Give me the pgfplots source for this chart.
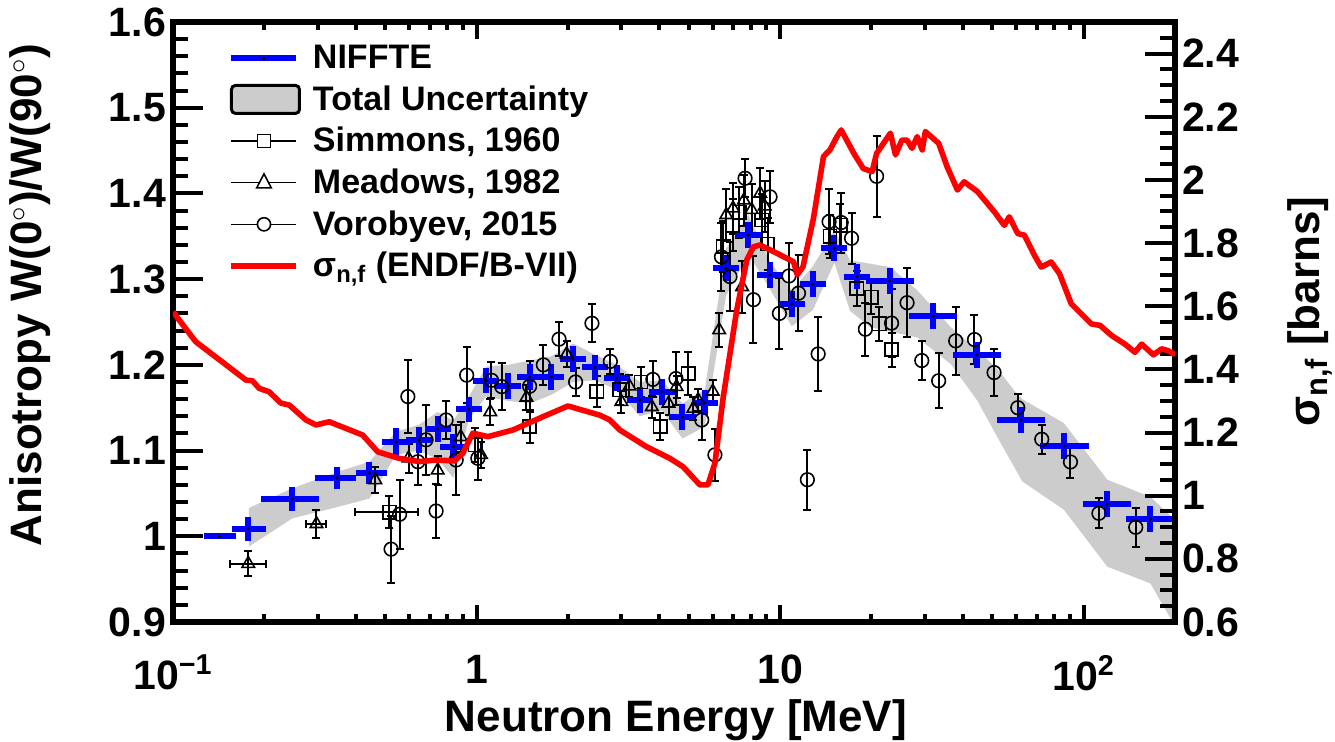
\documentclass[border=0pt]{standalone}
\usepackage{fontspec}
\setmainfont{Liberation Sans}
\usepackage{pgfplots}
\usepackage{pgfplotstable}
\pgfplotsset{compat=1.18}

\pgfplotstableread{
E Elo Ehi A dA
0.142 0.1266 0.1614 1.000 0
0.177 0.1563 0.2023 1.009 0.014
0.2475 0.1947 0.3032 1.044 0.014
0.347 0.2936 0.4009 1.068 0.013
0.444 0.401 0.5058 1.0735 0.013
0.543 0.487 0.604 1.110 0.016
0.645 0.584 0.712 1.112 0.015
0.745 0.675 0.822 1.125 0.015
0.839 0.760 0.926 1.1045 0.015
0.943 0.854 1.041 1.148 0.015
1.076 0.975 1.188 1.1816 0.015
1.269 1.149 1.401 1.1754 0.015
1.496 1.355 1.652 1.1855 0.015
1.765 1.599 1.949 1.1855 0.015
2.08 1.884 2.296 1.2065 0.015
2.45 2.219 2.705 1.197 0.015
2.90 2.627 3.202 1.1843 0.015
3.45 3.125 3.809 1.159 0.015
4.07 3.687 4.493 1.1687 0.015
4.77 4.321 5.266 1.1389 0.015
5.65 5.118 6.238 1.156 0.015
6.63 6.005 7.320 1.3127 0.015
7.86 7.12 8.68 1.3516 0.015
9.27 8.40 10.23 1.305 0.015
10.93 9.90 12.07 1.271 0.015
12.82 11.61 14.15 1.294 0.015
15.1 13.68 16.67 1.336 0.015
17.9 16.21 19.76 1.303 0.015
22.96 19.13 27.55 1.2975 0.015
32.0 26.67 38.4 1.257 0.015
44.5 37.08 53.4 1.2117 0.015
62.2 51.83 74.6 1.1358 0.015
86.5 72.1 103.8 1.105 0.015
119.7 99.75 143.6 1.0377 0.015
166 138.3 199.2 1.0198 0.015
}\niffte

\pgfplotstableread{
E A dA
0.99 1.1065 0.02
1.496 1.128 0.0195
2.49 1.169 0.018
2.96 1.171 0.018
3.48 1.180 0.018
4.03 1.128 0.016
4.98 1.190 0.025
6.5 1.338 0.03
7.0 1.363 0.03
7.35 1.378 0.03
8.7 1.369 0.03
9.1 1.341 0.03
14.6 1.350 0.025
15.8 1.363 0.025
17.9 1.289 0.02
20.0 1.279 0.02
21.2 1.248 0.02
23.3 1.2177 0.02
}\simmons

\pgfplotstableread{
E A dA
0.464 1.0657 0.0155
0.597 1.091 0.017
0.745 1.077 0.017
0.887 1.116 0.0175
1.035 1.095 0.015
1.11 1.145 0.0156
1.46 1.162 0.015
1.98 1.2125 0.015
3.0 1.157 0.013
3.19 1.175 0.013
3.78 1.151 0.013
4.29 1.155 0.013
4.56 1.1745 0.013
5.18 1.149 0.013
5.37 1.159 0.013
6.0 1.169 0.013
6.3 1.2407 0.02
6.65 1.375 0.03
7.0 1.3826 0.03
7.5 1.291 0.03
7.6 1.392 0.03
8.06 1.381 0.03
8.6 1.400 0.03
8.9 1.385 0.03
}\meadows

\pgfplotstableread{
E A dA
0.523 0.985 0.039
0.558 1.0257 0.040
0.594 1.163 0.043
0.641 1.087 0.027
0.682 1.1125 0.041
0.736 1.0295 0.031
0.794 1.1357 0.022
0.857 1.089 0.041
0.928 1.188 0.033
1.01 1.091 0.025
1.12 1.182 0.021
1.21 1.1746 0.027
1.496 1.175 0.03
1.66 1.200 0.023
1.87 1.230 0.02
2.12 1.180 0.016
2.40 1.2485 0.022
2.76 1.204 0.015
3.81 1.183 0.021
4.54 1.184 0.031
5.52 1.1357 0.023
6.1 1.095 0.03
6.41 1.326 0.04
6.84 1.303 0.04
7.67 1.4177 0.022
8.17 1.276 0.051
9.27 1.396 0.03
9.95 1.260 0.041
10.7 1.3037 0.039
11.5 1.2836 0.044
12.3 1.066 0.035
13.35 1.2127 0.043
14.5 1.367 0.038
15.9 1.366 0.035
17.2 1.3477 0.03
19.1 1.2416 0.031
20.8 1.420 0.047
23.3 1.2487 0.04
26.2 1.2725 0.04
29.3 1.205 0.023
33.3 1.1814 0.032
37.9 1.228 0.04
43.7 1.2295 0.029
50.7 1.191 0.027
60.7 1.150 0.016
72.8 1.1132 0.017
90.5 1.0867 0.019
112.3 1.0268 0.0175
148.5 1.0105 0.023
}\vorobyev

\pgfplotstableread{
E A dA Elo Ehi
0.516 1.028 0.0185 0.398 0.640
}\simmonsx

\pgfplotstableread{
E A dA Elo Ehi
0.177 0.968 0.0146 0.154 0.202
0.297 1.0144 0.016 0.275 0.320
}\meadowsx

\newcommand{\tickfont}{\fontsize{20.5}{22}\selectfont\bfseries}
\newcommand{\labfont}{\fontsize{22}{24}\selectfont\bfseries}

\begin{document}
\begin{tikzpicture}
\useasboundingbox (-86.5pt,-60pt) rectangle (581pt,311pt);

% main axis: anisotropy
\begin{axis}[scale only axis, width=501pt, height=300pt,
  xmode=log, xmin=0.1, xmax=200,
  axis line style={line width=3pt},
  tick style={black, line width=2pt},
  /pgf/number format/assume math mode=true,
  ymin=0.9, ymax=1.6,
  xtick=\empty, xminorticks=false,
  ytick={0.9,1.0,1.1,1.2,1.3,1.4,1.5,1.6}, minor y tick num=4,
  ytick pos=left,
  major tick length=15pt, minor tick length=7.5pt,
  yticklabel style={font=\tickfont},
  ylabel={Anisotropy W(0$^{\circ}$)/W(90$^{\circ}$)},
  ylabel style={font=\labfont, at={(axis description cs:-0.143,0.545)}, anchor=center},
  legend style={at={(axis description cs:0.055,0.967)}, anchor=north west,
    draw=none, fill=none, font=\fontsize{17}{18.5}\selectfont\bfseries,
    row sep=4pt, column sep=4.5pt, inner sep=0pt, nodes={inner sep=1.5pt}},
  legend cell align=left,
]
\addlegendimage{legend image code/.code={
  \draw[blue, line width=3pt] (0pt,0pt) -- (32.5pt,0pt);
  \fill[black] (16.25pt,0pt) circle (0.6pt);}}
\addlegendentry{NIFFTE}
\addlegendimage{legend image code/.code={
  \draw[fill=gray!40, line width=1.5pt, rounded corners=2pt] (0pt,-7pt) rectangle (34pt,7pt);}}
\addlegendentry{Total Uncertainty}
\addlegendimage{legend image code/.code={
  \draw[black, line width=0.8pt] (0pt,0pt) -- (32.5pt,0pt);
  \draw[black, line width=0.8pt, fill=white] (12.95pt,-3.3pt) rectangle (19.55pt,3.3pt);}}
\addlegendentry{Simmons, 1960}
\addlegendimage{legend image code/.code={
  \draw[black, line width=0.8pt] (0pt,0pt) -- (32.5pt,0pt);
  \draw[black, line width=0.8pt, fill=white] (12.6pt,-2.6pt) -- (19.9pt,-2.6pt) -- (16.25pt,4.4pt) -- cycle;}}
\addlegendentry{Meadows, 1982}
\addlegendimage{legend image code/.code={
  \draw[black, line width=0.8pt] (0pt,0pt) -- (32.5pt,0pt);
  \draw[black, line width=0.8pt, fill=white] (16.25pt,0pt) circle (3.3pt);}}
\addlegendentry{Vorobyev, 2015}
\addlegendimage{legend image code/.code={
  \draw[red, line width=2.8pt] (0pt,0pt) -- (32.5pt,0pt);}}
\addlegendentry{σ\textsubscript{n,f} (ENDF/B-VII)}

% total uncertainty band
\addplot[fill=gray!40, draw=none, forget plot] coordinates {
(0.178,1.033) (0.2475,1.056) (0.347,1.075) (0.444,1.087) (0.543,1.122)
(0.645,1.130) (0.745,1.145) (0.839,1.135) (0.943,1.163) (1.076,1.198)
(1.269,1.200) (1.496,1.205) (1.765,1.210) (2.08,1.225) (2.45,1.212)
(2.90,1.200) (3.45,1.180) (4.07,1.182) (4.77,1.155) (5.65,1.171)
(6.63,1.335) (7.86,1.375) (9.27,1.320) (10.93,1.287) (12.82,1.315)
(15.1,1.357) (17.0,1.322) (19.8,1.318) (23.1,1.314) (28.3,1.287)
(36.5,1.244) (44.7,1.217) (52.1,1.195) (59.1,1.170) (62.8,1.160)
(86.1,1.132) (119.7,1.066) (166,1.046) (200,1.019)
(200,0.895) (166,0.945) (119.7,0.9645) (86.1,1.031) (62.8,1.064)
(52.1,1.115) (44.7,1.158) (36.5,1.201) (28.3,1.232) (19.8,1.244)
(17.0,1.263) (15.1,1.319) (12.82,1.264) (10.93,1.245) (9.27,1.288)
(7.86,1.330) (6.63,1.280) (5.65,1.128) (4.77,1.114) (4.07,1.147)
(3.45,1.140) (2.90,1.171) (2.45,1.182) (2.08,1.180) (1.765,1.165)
(1.496,1.155) (1.269,1.158) (1.076,1.163) (0.943,1.136) (0.839,1.068)
(0.745,1.090) (0.645,1.100) (0.543,1.095) (0.444,1.044) (0.347,1.034)
(0.2475,1.021) (0.178,0.988)
} -- cycle;

% literature data
\addplot[only marks, black, mark=square, mark size=3.3pt,
  mark options={fill=white, line width=0.8pt, solid}, forget plot,
  error bars/.cd, y dir=both, y explicit,
  error bar style={line width=1pt, black},
  error mark options={rotate=90, mark size=2pt, line width=1pt, black}]
  table[x=E, y=A, y error=dA] {\simmons};
\addplot[only marks, black, mark=square, mark size=3.3pt,
  mark options={fill=white, line width=0.8pt, solid}, forget plot,
  error bars/.cd, x dir=both, y dir=both, x explicit, y explicit,
  error bar style={line width=1pt, black},
  error mark options={rotate=90, mark size=2pt, line width=1pt, black}]
  table[x=E, y=A, y error=dA,
  x error plus expr=\thisrow{Ehi}-\thisrow{E}, x error minus expr=\thisrow{E}-\thisrow{Elo}] {\simmonsx};
\addplot[only marks, black, mark=triangle, mark size=3.6pt,
  mark options={fill=white, line width=0.8pt, solid}, forget plot,
  error bars/.cd, y dir=both, y explicit,
  error bar style={line width=1pt, black},
  error mark options={rotate=90, mark size=2pt, line width=1pt, black}]
  table[x=E, y=A, y error=dA] {\meadows};
\addplot[only marks, black, mark=triangle, mark size=3.6pt,
  mark options={fill=white, line width=0.8pt, solid}, forget plot,
  error bars/.cd, x dir=both, y dir=both, x explicit, y explicit,
  error bar style={line width=1pt, black},
  error mark options={rotate=90, mark size=2pt, line width=1pt, black}]
  table[x=E, y=A, y error=dA,
  x error plus expr=\thisrow{Ehi}-\thisrow{E}, x error minus expr=\thisrow{E}-\thisrow{Elo}] {\meadowsx};
\addplot[only marks, black, mark=o, mark size=3.4pt,
  mark options={fill=white, line width=0.8pt, solid}, forget plot,
  error bars/.cd, y dir=both, y explicit,
  error bar style={line width=1pt, black},
  error mark options={rotate=90, mark size=2pt, line width=1pt, black}]
  table[x=E, y=A, y error=dA] {\vorobyev};

% NIFFTE
\addplot[only marks, mark=*, mark size=0.6pt, black, forget plot,
  error bars/.cd, x dir=both, y dir=both, x explicit, y explicit,
  error bar style={blue, line width=3pt}, error mark=none]
  table[x=E, y=A, y error=dA,
  x error plus expr=\thisrow{Ehi}-\thisrow{E}, x error minus expr=\thisrow{E}-\thisrow{Elo}] {\niffte};
\end{axis}

% x ticks axis
\begin{axis}[scale only axis, width=501pt, height=300pt,
  xmode=log, xmin=0.1, xmax=200,
  axis line style={line width=3pt},
  tick style={black, line width=2pt},
  ymin=0.9, ymax=1.6, ytick=\empty,
  xtick={0.1,1,10,100},
  xticklabels={10\textsuperscript{−1},1,10,10\textsuperscript{2}},
  minor xtick={0.2,0.3,0.4,0.5,0.6,0.7,0.8,0.9,2,3,4,5,6,7,8,9,20,30,40,50,60,70,80,90,200},
  xtick pos=both,
  major tick length=8.5pt, minor tick length=4pt,
  xticklabel style={font=\tickfont, yshift=-13pt},
  xlabel={Neutron Energy [MeV]},
  xlabel style={font=\labfont, at={(axis description cs:0.502,-0.163)}, anchor=center},
]
\addplot[draw=none, forget plot] coordinates {(1,1)};
\end{axis}

% right axis: cross section
\begin{axis}[scale only axis, width=501pt, height=300pt,
  xmode=log, xmin=0.1, xmax=200,
  axis line style={line width=3pt},
  tick style={black, line width=2pt},
  /pgf/number format/assume math mode=true,
  ymin=0.6, ymax=2.5,
  axis x line=none, axis y line*=right,
  ytick={0.6,0.8,1.0,1.2,1.4,1.6,1.8,2.0,2.2,2.4},
  minor ytick={0.65,0.7,0.75,0.85,0.9,0.95,1.05,1.1,1.15,1.25,1.3,1.35,1.45,1.5,1.55,1.65,1.7,1.75,1.85,1.9,1.95,2.05,2.1,2.15,2.25,2.3,2.35,2.45},
  major tick length=15pt, minor tick length=7.5pt,
  yticklabel style={font=\tickfont},
  ylabel={σ\textsubscript{n,f} [barns]},
  ylabel style={font=\labfont, at={(axis description cs:1.135,0.517)}, anchor=center},
]
\addplot[red, line width=2.8pt, line join=round] coordinates {
(0.1,1.582) (0.1188,1.4876) (0.174,1.366) (0.1827,1.364) (0.1922,1.340)
(0.2074,1.329) (0.2267,1.293) (0.2415,1.287) (0.2741,1.240) (0.2958,1.224)
(0.3273,1.234) (0.4216,1.192) (0.4725,1.139) (0.5571,1.118) (0.6485,1.108)
(0.7362,1.113) (0.8461,1.110) (0.9012,1.134) (0.9723,1.198) (1.090,1.187)
(1.318,1.208) (1.655,1.250) (2.001,1.284) (2.547,1.255) (2.748,1.240)
(2.965,1.208) (3.631,1.155) (4.335,1.118) (4.786,1.092) (5.445,1.034)
(5.785,1.034) (6.10,1.103) (6.50,1.313) (7.20,1.588) (7.77,1.746)
(8.17,1.788) (8.59,1.794) (9.51,1.773) (11.07,1.741) (11.4,1.700)
(11.9,1.725) (12.88,1.878) (13.9,2.074) (14.6,2.095) (15.4,2.137)
(15.9,2.158) (17.5,2.084) (18.8,2.036) (20.1,2.026) (20.8,2.084)
(23.1,2.148) (24.0,2.079) (25.2,2.126) (26.2,2.126) (27.2,2.100)
(28.3,2.137) (29.4,2.095) (30.1,2.153) (33.3,2.116) (35.5,2.042)
(38.4,1.968) (40.4,1.994) (44.7,1.963) (50.8,1.899) (54.8,1.856)
(56.9,1.883) (60.7,1.830) (63.8,1.825) (68.9,1.761) (72.5,1.724)
(78.2,1.740) (83.3,1.703) (91.0,1.608) (106.1,1.544) (113.4,1.539)
(123.7,1.507) (136.8,1.480) (147.6,1.454) (155.3,1.480) (169.8,1.446)
(180.7,1.465) (190.0,1.459) (197.7,1.449) (200,1.455)
};
\end{axis}
\end{tikzpicture}
\end{document}
